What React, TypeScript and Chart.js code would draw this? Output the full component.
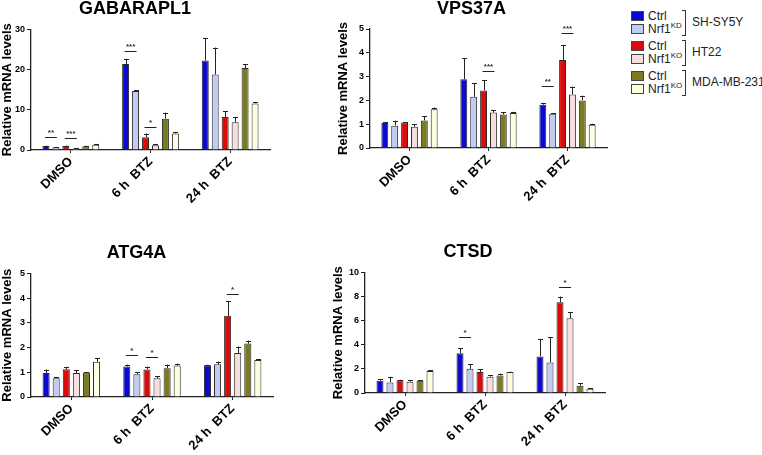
import React, { useEffect, useRef } from "react";
import { Chart, registerables } from "chart.js";

Chart.register(...registerables);

// ---------- DATA ----------
const categories = ["DMSO", "6 h\u00a0\u00a0BTZ", "24 h\u00a0\u00a0BTZ"];
const seriesNames = ["Ctrl", "Nrf1", "Ctrl", "Nrf1", "Ctrl", "Nrf1"];
const seriesSup = ["", "KD", "", "KO", "", "KO"];
const cellLines = ["SH-SY5Y", "HT22", "MDA-MB-231"];
const seriesColors = ["#0b0bd0", "#c3cbf3", "#dc0b0b", "#f6dede", "#7b7b22", "#fdfde0"];

// means per series: [DMSO, 6 h BTZ, 24 h BTZ]
const gabarapl1Mean = [
  [1.0, 21.4, 22.3],
  [0.67, 14.7, 18.8],
  [1.0, 3.2, 8.2],
  [0.35, 1.2, 6.9],
  [0.95, 7.8, 20.4],
  [1.3, 4.1, 11.6],
];
const gabarapl1Err = [
  [0.1, 1.3, 5.6],
  [0.1, 0.2, 6.7],
  [0.1, 0.9, 1.5],
  [0.05, 0.2, 1.2],
  [0.1, 1.5, 0.9],
  [0.2, 0.4, 0.3],
];
const gabarapl1Sig = [
  [0, 0, 1, 3.2, "**"],
  [0, 2, 3, 2.9, "***"],
  [1, 0, 1, 24.7, "***"],
  [1, 2, 3, 5.7, "*"],
];

const vps37aMean = [
  [1.05, 2.89, 1.82],
  [0.94, 2.15, 1.44],
  [1.07, 2.42, 3.7],
  [0.89, 1.49, 2.25],
  [1.16, 1.41, 2.0],
  [1.63, 1.47, 0.98],
];
const vps37aErr = [
  [0.04, 0.88, 0.08],
  [0.21, 0.57, 0.03],
  [0.02, 0.43, 0.63],
  [0.11, 0.09, 0.33],
  [0.18, 0.09, 0.2],
  [0.07, 0.05, 0.04],
];
const vps37aSig = [
  [1, 2, 3, 3.24, "***"],
  [2, 0, 1, 2.61, "**"],
  [2, 2, 3, 4.83, "***"],
];

const atg4aMean = [
  [0.97, 1.23, 1.28],
  [0.76, 0.92, 1.32],
  [1.12, 1.11, 3.28],
  [0.97, 0.76, 1.78],
  [0.99, 1.16, 2.16],
  [1.42, 1.27, 1.5],
];
const atg4aErr = [
  [0.14, 0.08, 0.02],
  [0.05, 0.09, 0.11],
  [0.1, 0.12, 0.6],
  [0.11, 0.09, 0.26],
  [0.01, 0.15, 0.12],
  [0.15, 0.08, 0.02],
];
const atg4aSig = [
  [1, 0, 1, 1.71, "*"],
  [1, 2, 3, 1.63, "*"],
  [2, 2, 3, 4.17, "*"],
];

const ctsdMean = [
  [1.02, 3.3, 3.03],
  [0.88, 2.0, 2.53],
  [1.05, 1.74, 7.52],
  [0.94, 1.35, 6.2],
  [1.02, 1.46, 0.6],
  [1.82, 1.74, 0.36],
];
const ctsdErr = [
  [0.14, 0.42, 1.46],
  [0.47, 0.4, 2.07],
  [0.05, 0.24, 0.47],
  [0.11, 0.11, 0.52],
  [0.04, 0.14, 0.23],
  [0.08, 0.03, 0.05],
];
const ctsdSig = [
  [1, 0, 1, 4.65, "*"],
  [2, 2, 3, 8.78, "*"],
];

const yAxisTitle = "Relative mRNA levels";

// ---------- CHART ----------
const FONT = "'Liberation Sans', Arial, sans-serif";

const errorPlugin = {
  id: "errSig",
  afterDatasetsDraw(chart: any) {
    const opts = chart.options.plugins.errSig;
    const ctx = chart.ctx;
    const yScale = chart.scales.y;
    ctx.save();
    ctx.strokeStyle = "#222";
    ctx.lineWidth = 1;
    chart.data.datasets.forEach((ds: any, di: number) => {
      const meta = chart.getDatasetMeta(di);
      meta.data.forEach((bar: any, i: number) => {
        const m = opts.mean[di][i];
        const e = opts.err[di][i];
        const yTop = yScale.getPixelForValue(m);
        const yE = yScale.getPixelForValue(m + e);
        const x = Math.round(bar.x) + 0.5;
        ctx.beginPath();
        ctx.moveTo(x, yTop);
        ctx.lineTo(x, yE);
        ctx.moveTo(x - 2.5, Math.round(yE) + 0.5);
        ctx.lineTo(x + 2.5, Math.round(yE) + 0.5);
        ctx.stroke();
      });
    });
    opts.sig.forEach((s: any) => {
      const [cat, a, b, yv, label] = s;
      const xa = chart.getDatasetMeta(a).data[cat].x;
      const xb = chart.getDatasetMeta(b).data[cat].x;
      const y = Math.round(yScale.getPixelForValue(yv)) + 0.5;
      ctx.strokeStyle = "#222";
      ctx.beginPath();
      ctx.moveTo(xa - 1, y);
      ctx.lineTo(xb + 1, y);
      ctx.stroke();
      ctx.fillStyle = "#333";
      ctx.font = `bold 8px ${FONT}`;
      ctx.textAlign = "center";
      ctx.textBaseline = "bottom";
      ctx.fillText(label, (xa + xb) / 2, y - 1);
    });
    ctx.restore();
  },
};

type PanelProps = {
  title: string;
  mean: number[][];
  err: number[][];
  sig: any[];
  yMax: number;
  yStep: number;
  left: number;
  top: number;
  width: number;
  height: number;
  yWidth: number;
  xHeight: number;
  titleBottom: number;
  rightPad: number;
};

function Panel(p: PanelProps) {
  const ref = useRef<HTMLCanvasElement>(null);
  useEffect(() => {
    if (!ref.current) return;
    const chart = new Chart(ref.current, {
      type: "bar",
      data: {
        labels: categories,
        datasets: p.mean.map((vals, si) => ({
          label: seriesNames[si] + seriesSup[si],
          data: vals,
          backgroundColor: seriesColors[si],
          borderColor: "#2a2a2a",
          borderWidth: 1,
          categoryPercentage: 0.75,
          barPercentage: 0.7,
        })),
      },
      options: {
        responsive: false,
        animation: false,
        devicePixelRatio: 1,
        layout: { padding: { left: 0, right: p.rightPad, top: 0, bottom: 0 } },
        plugins: {
          legend: { display: false },
          tooltip: { enabled: false },
          title: {
            display: true,
            text: p.title,
            color: "#000",
            font: { family: FONT, size: 18, weight: "bold", lineHeight: 1 },
            padding: { top: 0, bottom: p.titleBottom },
          },
          errSig: { mean: p.mean, err: p.err, sig: p.sig },
        } as any,
        scales: {
          x: {
            grid: {
              display: true,
              drawOnChartArea: false,
              drawTicks: true,
              tickLength: 3,
              offset: false,
              color: "#222",
            },
            border: { display: true, color: "#222", width: 1.3 },
            ticks: {
              color: "#000",
              font: { family: FONT, size: 13, weight: "bold" },
              minRotation: 45,
              maxRotation: 45,
              autoSkip: false,
              padding: 1,
            },
            afterFit: (s: any) => {
              s.height = p.xHeight;
            },
          },
          y: {
            min: 0,
            max: p.yMax,
            grid: {
              display: true,
              drawOnChartArea: false,
              drawTicks: true,
              tickLength: 4,
              color: "#222",
            },
            border: { display: true, color: "#222", width: 1.3 },
            ticks: {
              stepSize: p.yStep,
              color: "#000",
              font: { family: FONT, size: 9, weight: "bold" },
              padding: 2,
            },
            title: {
              display: true,
              text: yAxisTitle,
              color: "#000",
              font: { family: FONT, size: 13, weight: "bold" },
              padding: 0,
            },
            afterFit: (s: any) => {
              s.width = p.yWidth;
            },
          },
        },
      },
      plugins: [errorPlugin],
    });
    return () => chart.destroy();
  }, []);
  return (
    <canvas
      ref={ref}
      width={p.width}
      height={p.height}
      style={{ position: "absolute", left: p.left, top: p.top, width: p.width, height: p.height }}
    />
  );
}

function Legend() {
  const rowY = [15.7, 29, 45.7, 59, 75.7, 89];
  return (
    <>
      {seriesNames.map((n, i) => (
        <React.Fragment key={i}>
          <div
            style={{
              position: "absolute",
              left: 631,
              top: rowY[i] - 5,
              width: 13,
              height: 10,
              boxSizing: "border-box",
              border: "1px solid #444",
              background: seriesColors[i],
            }}
          />
          <div
            style={{
              position: "absolute",
              left: 648,
              top: rowY[i] - 8,
              height: 16,
              lineHeight: "16px",
              fontFamily: FONT,
              fontSize: 12,
              color: "#222",
              whiteSpace: "nowrap",
            }}
          >
            {n}
            {seriesSup[i] ? (
              <span style={{ fontSize: 8, position: "relative", top: -5 }}>{seriesSup[i]}</span>
            ) : null}
          </div>
        </React.Fragment>
      ))}
      {cellLines.map((c, g) => {
        const y0 = rowY[g * 2] - 5.5;
        const y1 = rowY[g * 2 + 1] + 5;
        return (
          <React.Fragment key={c}>
            <div
              style={{
                position: "absolute",
                left: 682,
                top: y0,
                width: 3,
                height: y1 - y0,
                borderTop: "1px solid #333",
                borderRight: "1px solid #333",
                borderBottom: "1px solid #333",
              }}
            />
            <div
              style={{
                position: "absolute",
                left: 692,
                top: (y0 + y1) / 2 - 8,
                height: 16,
                lineHeight: "16px",
                fontFamily: FONT,
                fontSize: 12,
                color: "#222",
                whiteSpace: "nowrap",
              }}
            >
              {c}
            </div>
          </React.Fragment>
        );
      })}
    </>
  );
}

export default function App() {
  return (
    <div
      style={{
        position: "absolute",
        left: 0,
        top: 0,
        width: 762,
        height: 455,
        background: "#fff",
        overflow: "hidden",
      }}
    >
      <Panel
        title="GABARAPL1"
        mean={gabarapl1Mean}
        err={gabarapl1Err}
        sig={gabarapl1Sig}
        yMax={30}
        yStep={10}
        left={0}
        top={0}
        width={285}
        height={220}
        yWidth={31}
        xHeight={70}
        titleBottom={11.5}
        rightPad={15}
      />
      <Panel
        title="VPS37A"
        mean={vps37aMean}
        err={vps37aErr}
        sig={vps37aSig}
        yMax={5}
        yStep={1}
        left={336}
        top={0}
        width={280}
        height={220}
        yWidth={34}
        xHeight={72}
        titleBottom={11}
        rightPad={9}
      />
      <Panel
        title="ATG4A"
        mean={atg4aMean}
        err={atg4aErr}
        sig={atg4aSig}
        yMax={5}
        yStep={1}
        left={0}
        top={244}
        width={285}
        height={211}
        yWidth={31}
        xHeight={58}
        titleBottom={11.3}
        rightPad={12}
      />
      <Panel
        title="CTSD"
        mean={ctsdMean}
        err={ctsdErr}
        sig={ctsdSig}
        yMax={10}
        yStep={2}
        left={331}
        top={243}
        width={285}
        height={212}
        yWidth={34}
        xHeight={62}
        titleBottom={11.3}
        rightPad={11}
      />
      <Legend />
    </div>
  );
}
